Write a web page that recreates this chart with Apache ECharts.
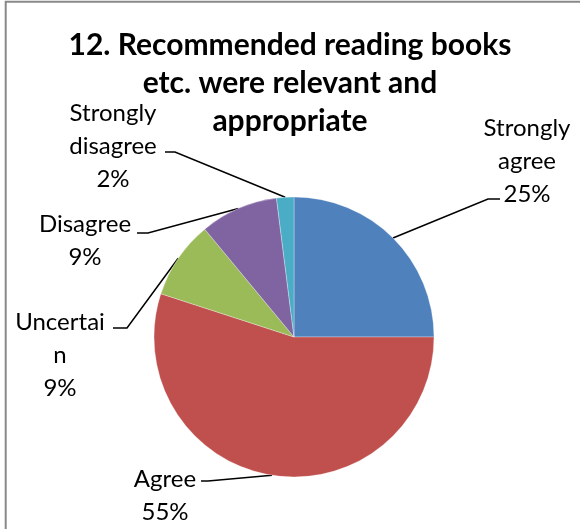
<!DOCTYPE html>
<html>
<head>
<meta charset="utf-8">
<script src="https://cdn.jsdelivr.net/npm/echarts@6/dist/echarts.min.js"></script>
<style>html,body{margin:0;padding:0;background:#fff}#c{width:580px;height:529px}</style>
</head>
<body>
<div id="c"></div>
<script>
// ---- data ----
var titleText = '12. Recommended reading books\netc. were relevant and\nappropriate';
var categories = ['Strongly agree', 'Agree', 'Uncertain', 'Disagree', 'Strongly disagree'];
var labelNames = ['Strongly\nagree', 'Agree', 'Uncertai\nn', 'Disagree', 'Strongly\ndisagree'];
var values = [25, 55, 9, 9, 2];
var colors = ['#4F81BD', '#C0504D', '#9BBB59', '#8064A2', '#4BACC6'];

// ---- layout (label centres and leader-line bends, px) ----
var labelCenters = [[527, 161], [165, 496], [60, 355], [85, 241], [113, 146]];
var leaderBends = [[[488, 199], [500, 199]], [[208, 481], [201, 481]], [[127, 328], [113, 328]], [[148, 233], [137, 233]], [[175, 152], [165, 152]]];

var chart = echarts.init(document.getElementById('c'), null, {renderer: 'canvas'});
var FONT = 'Lato, "Open Sans", sans-serif';
chart.setOption({
  animation: false,
  backgroundColor: '#fff',
  color: colors,
  title: {
    text: titleText,
    left: 'center',
    top: 26,
    padding: [0, 0, 0, 14],
    textStyle: {fontFamily: FONT, fontWeight: 'bold', fontSize: 30, lineHeight: 38, color: '#000', align: 'center'}
  },
  graphic: [{
    type: 'rect', silent: true, z: 100,
    shape: {x: 5.7, y: 1.8, width: 800, height: 800},
    style: {fill: 'none', stroke: '#898989', lineWidth: 2}
  }],
  series: [{
    type: 'pie',
    center: [294, 337],
    radius: 140,
    startAngle: 90,
    clockwise: true,
    avoidLabelOverlap: false,
    percentPrecision: 0,
    itemStyle: {borderColor: 'rgba(255,255,255,0.6)', borderWidth: 0.5},
    label: {
      show: true,
      position: 'outside',
      formatter: function (p) { return labelNames[p.dataIndex] + '\n' + Math.round(p.percent) + '%'; },
      fontFamily: FONT, fontSize: 24, lineHeight: 33, color: '#000', align: 'center'
    },
    labelLine: {show: true, lineStyle: {color: '#000', width: 1.5}},
    labelLayout: function (p) {
      var i = p.dataIndex;
      var start = p.labelLinePoints ? p.labelLinePoints[0] : null;
      var res = {x: labelCenters[i][0], y: labelCenters[i][1], align: 'center', verticalAlign: 'middle'};
      if (start) res.labelLinePoints = [start, leaderBends[i][0], leaderBends[i][1]];
      return res;
    },
    data: categories.map(function (c, i) { return {name: c, value: values[i]}; })
  }]
});
</script>
</body>
</html>
